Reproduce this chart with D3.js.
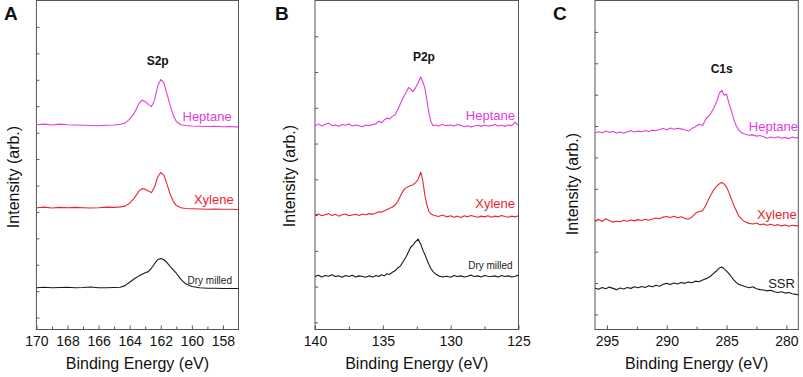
<!DOCTYPE html>
<html lang="en">
<head>
    <meta charset="UTF-8">
    <title>XPS spectra</title>
    <script src="https://d3js.org/d3.v7.min.js"></script>
    <style>
        html, body {
            margin: 0;
            padding: 0;
            background: #fff;
        }
        svg {
            display: block;
            font-family: "Liberation Sans", Arial, sans-serif;
        }
        .frame {
            fill: none;
            stroke: #555;
            stroke-width: 1;
        }
        .tick line {
            stroke: #555;
        }
        .tick text {
            font-size: 14px;
            fill: #111;
        }
        .spectrum {
            fill: none;
            stroke-width: 1.1;
            stroke-linejoin: round;
        }
    </style>
</head>
<body>
    <svg id="chart" width="803" height="377"></svg>

    <script>
        // ---- panel A : S2p ----
        const s2pEnergy = [170, 169.5, 169, 168.5, 168, 167.5, 167, 166.5, 166, 165.5, 165, 164.6, 164.3, 164.0, 163.7, 163.4,
            163.2, 163.0, 162.8, 162.6, 162.4, 162.2, 162.0, 161.8, 161.6, 161.4, 161.2, 161.0, 160.7, 160.4, 160.0,
            159.5, 159, 158.5, 158, 157.5, 157];
        const s2pHeptane = [7.30, 7.32, 7.29, 7.32, 7.30, 7.29, 7.28, 7.27, 7.26, 7.28, 7.29, 7.32, 7.36, 7.51, 7.74, 8.10,
            8.23, 8.18, 8.06, 7.99, 8.23, 8.76, 9.01, 8.88, 8.46, 8.04, 7.66, 7.42, 7.30, 7.27, 7.25,
            7.24, 7.23, 7.24, 7.22, 7.23, 7.21];
        const s2pXylene = [4.16, 4.18, 4.15, 4.17, 4.16, 4.17, 4.16, 4.15, 4.16, 4.18, 4.17, 4.19, 4.22, 4.33, 4.52, 4.79,
            4.88, 4.86, 4.79, 4.73, 4.94, 5.32, 5.49, 5.39, 5.05, 4.67, 4.41, 4.24, 4.16, 4.13, 4.12,
            4.11, 4.10, 4.11, 4.10, 4.10, 4.09];
        const s2pDryMilled = [1.13, 1.15, 1.13, 1.14, 1.15, 1.13, 1.14, 1.16, 1.13, 1.13, 1.14, 1.15, 1.21, 1.34, 1.47, 1.58,
            1.64, 1.70, 1.74, 1.87, 2.04, 2.19, 2.24, 2.19, 2.08, 1.94, 1.81, 1.68, 1.45, 1.28, 1.18,
            1.13, 1.11, 1.11, 1.10, 1.10, 1.10];
        const s2pTicks = [170, 168, 166, 164, 162, 160, 158];
        const s2pMinor = [169, 167, 165, 163, 161, 159];

        // ---- panel B : P2p ----
        const p2pEnergy = [140, 139.75, 139.5, 139.25, 139, 138.75, 138.5, 138.25, 138, 137.75, 137.5, 137.25, 137, 136.75, 136.5, 136.25, 136,
            135.75, 135.5, 135.3, 135.1, 134.9, 134.7, 134.5, 134.3, 134.1, 133.9, 133.7, 133.5, 133.3, 133.1,
            132.95, 132.8, 132.6, 132.4, 132.2, 132.05, 131.9, 131.75, 131.6, 131.45, 131.3, 131.1, 130.9, 130.6, 130.3,
            130, 129.75, 129.5, 129.25, 129, 128.75, 128.5, 128.25, 128, 127.75, 127.5, 127.25, 127, 126.75, 126.5, 126.25, 126,
            125.75, 125.5, 125.25, 125];
        const p2pHeptane = [5.50, 5.55, 5.49, 5.54, 5.57, 5.50, 5.52, 5.48, 5.53, 5.51, 5.55, 5.49, 5.52, 5.50, 5.47, 5.52, 5.50,
            5.53, 5.55, 5.63, 5.58, 5.66, 5.71, 5.69, 5.76, 5.80, 5.95, 6.12, 6.28, 6.42, 6.57,
            6.52, 6.45, 6.55, 6.70, 6.86, 6.72, 6.55, 6.20, 5.85, 5.60, 5.50, 5.52, 5.49, 5.53, 5.50,
            5.52, 5.49, 5.53, 5.51, 5.47, 5.50, 5.46, 5.49, 5.51, 5.48, 5.52, 5.49, 5.50, 5.53, 5.49, 5.51, 5.48,
            5.52, 5.50, 5.60, 5.50];
        const p2pXylene = [3.00, 3.03, 2.98, 3.01, 3.04, 2.99, 3.02, 2.97, 3.01, 3.03, 2.98, 3.00, 3.02, 2.99, 3.03, 3.01, 3.04,
            3.02, 3.06, 3.09, 3.08, 3.12, 3.15, 3.19, 3.22, 3.28, 3.38, 3.53, 3.68, 3.76, 3.80,
            3.83, 3.84, 3.90, 3.99, 4.20, 3.95, 3.55, 3.28, 3.10, 3.03, 3.00, 2.98, 2.96, 3.00, 2.95,
            2.98, 2.94, 2.97, 2.93, 2.98, 2.95, 2.99, 2.96, 2.94, 2.97, 2.95, 2.98, 2.94, 2.97, 2.95, 2.99, 2.96,
            2.94, 2.97, 2.95, 2.98];
        const p2pDryMilled = [1.28, 1.32, 1.27, 1.31, 1.29, 1.33, 1.28, 1.30, 1.26, 1.31, 1.28, 1.32, 1.27, 1.30, 1.28, 1.26, 1.30,
            1.27, 1.31, 1.28, 1.33, 1.30, 1.36, 1.34, 1.40, 1.44, 1.52, 1.58, 1.70, 1.82, 1.98,
            2.10, 2.15, 2.25, 2.33, 2.18, 2.02, 1.90, 1.75, 1.62, 1.50, 1.42, 1.35, 1.30, 1.27, 1.29,
            1.26, 1.31, 1.28, 1.30, 1.27, 1.29, 1.32, 1.28, 1.30, 1.27, 1.31, 1.29, 1.28, 1.30, 1.27, 1.31, 1.28,
            1.30, 1.27, 1.29, 1.32];
        const p2pTicks = [140, 135, 130, 125];
        const p2pMinor = [137.5, 132.5, 127.5];

        // ---- panel C : C1s ----
        const c1sEnergy = [296, 295.7, 295.4, 295.1, 294.8, 294.5, 294.2, 293.9, 293.6, 293.3, 293, 292.7, 292.4, 292.1, 291.8, 291.5,
            291.2, 290.9, 290.6, 290.3, 290, 289.7, 289.4, 289.1, 288.8, 288.5, 288.2, 287.9, 287.6, 287.3, 287, 286.7,
            286.4, 286.1, 285.8, 285.6, 285.4, 285.2, 285.0, 284.8, 284.6, 284.4, 284.2, 284.0,
            283.7, 283.4, 283.1, 282.8, 282.5, 282.2, 281.9, 281.6, 281.3, 281, 280.7, 280.4, 280.1, 279.8, 279.5, 279.2, 279];
        const c1sHeptane = [5.78, 5.82, 5.79, 5.84, 5.80, 5.83, 5.78, 5.81, 5.77, 5.82, 5.85, 5.81, 5.84, 5.82, 5.86, 5.83,
            5.87, 5.85, 5.89, 5.92, 5.88, 5.94, 5.90, 5.93, 5.91, 5.88, 5.84, 5.92, 5.98, 6.06, 6.02, 6.25,
            6.35, 6.55, 6.80, 7.05, 7.14, 6.98, 7.02, 6.72, 6.50, 6.22, 6.02, 5.88,
            5.78, 5.74, 5.71, 5.72, 5.68, 5.70, 5.66, 5.61, 5.65, 5.62, 5.66, 5.61, 5.64, 5.60, 5.65, 5.62, 5.64];
        const c1sXylene = [2.98, 3.03, 2.96, 3.05, 2.99, 2.94, 2.97, 2.95, 3.00, 2.97, 3.01, 2.98, 3.02, 2.99, 3.03, 3.00,
            3.04, 3.07, 3.05, 3.10, 3.12, 3.09, 3.13, 3.08, 3.11, 3.06, 3.03, 3.10, 3.22, 3.28, 3.30, 3.50,
            3.75, 3.95, 4.10, 4.16, 4.20, 4.15, 4.06, 3.88, 3.68, 3.48, 3.32, 3.15,
            3.02, 2.94, 2.90, 2.88, 2.91, 2.86, 2.88, 2.84, 2.87, 2.83, 2.86, 2.82, 2.85, 2.81, 2.84, 2.82, 2.83];
        const c1sSSR = [0.84, 0.80, 0.86, 0.82, 0.87, 0.83, 0.79, 0.84, 0.81, 0.86, 0.83, 0.88, 0.85, 0.89, 0.86, 0.91,
            0.88, 0.93, 0.90, 0.96, 0.99, 0.95, 1.00, 0.97, 1.02, 0.99, 1.03, 1.01, 1.06, 1.04, 1.10, 1.14,
            1.20, 1.30, 1.40, 1.48, 1.51, 1.45, 1.38, 1.30, 1.20, 1.10, 1.02, 0.96,
            0.92, 0.88, 0.85, 0.88, 0.82, 0.79, 0.78, 0.75, 0.77, 0.72, 0.70, 0.72, 0.68, 0.70, 0.66, 0.64, 0.62];
        const c1sTicks = [295, 290, 285, 280];
        const c1sMinor = [292.5, 287.5, 282.5];

        const magenta = "#e53be0";
        const red = "#e8262c";
        const black = "#1a1a1a";

        // layout of the three panels (pixels)
        const panels = [
            {
                letter: "A", left: 36.4, right: 238.5, xDomain: [170, 157], yDomain: [-0.45, 12], yTickCount: 12,
                ticks: s2pTicks, minor: s2pMinor, energy: s2pEnergy,
                title: { text: "S2p", x: 162.2, y: 9.72 },
                series: [
                    { name: "Heptane", values: s2pHeptane, color: magenta, size: 13, lx: 157.44, ly: 7.63 },
                    { name: "Xylene", values: s2pXylene, color: red, size: 13, lx: 157.31, ly: 4.48 },
                    { name: "Dry milled", values: s2pDryMilled, color: black, size: 10, lx: 157.42, ly: 1.41 }
                ],
                letterX: 4, yTitleX: 13, yTitleY: 177
            },
            {
                letter: "B", left: 315, right: 518.5, xDomain: [140, 125], yDomain: [-0.2, 9], yTickCount: 9,
                ticks: p2pTicks, minor: p2pMinor, energy: p2pEnergy,
                title: { text: "P2p", x: 131.97, y: 7.42 },
                series: [
                    { name: "Heptane", values: p2pHeptane, color: magenta, size: 13, lx: 125.26, ly: 5.79 },
                    { name: "Xylene", values: p2pXylene, color: red, size: 13, lx: 125.26, ly: 3.33 },
                    { name: "Dry milled", values: p2pDryMilled, color: black, size: 10, lx: 125.43, ly: 1.58 }
                ],
                letterX: 275, yTitleX: 289, yTitleY: 176
            },
            {
                letter: "C", left: 595, right: 798.3, xDomain: [296, 279], yDomain: [-0.48, 10], yTickCount: 10,
                ticks: c1sTicks, minor: c1sMinor, energy: c1sEnergy,
                title: { text: "C1s", x: 285.41, y: 7.83 },
                series: [
                    { name: "Heptane", values: c1sHeptane, color: magenta, size: 13, lx: 279.03, ly: 6.00 },
                    { name: "Xylene", values: c1sXylene, color: red, size: 13, lx: 279.14, ly: 3.19 },
                    { name: "SSR", values: c1sSSR, color: black, size: 13, lx: 279.28, ly: 0.98 }
                ],
                letterX: 553, yTitleX: 572.5, yTitleY: 184
            }
        ];

        // plot box top/bottom shared by all panels
        const plotTop = 0.5, plotBottom = 329.5;
        const svg = d3.select("#chart");

        panels.forEach(p => {
            const x = d3.scaleLinear().domain(p.xDomain).range([p.left, p.right]);
            const y = d3.scaleLinear().domain(p.yDomain).range([plotBottom, plotTop]);
            const g = svg.append("g");

            // x axis: labelled ticks plus small minor ticks, pointing inward
            g.append("g")
                .attr("transform", `translate(0,${plotBottom})`)
                .call(d3.axisBottom(x).tickValues(p.ticks).tickFormat(d3.format("d"))
                    .tickSizeInner(-4).tickSizeOuter(0).tickPadding(7))
                .call(a => a.select(".domain").remove());
            g.append("g")
                .attr("transform", `translate(0,${plotBottom})`)
                .call(d3.axisBottom(x).tickValues(p.minor).tickFormat("")
                    .tickSizeInner(-3).tickSizeOuter(0))
                .call(a => a.select(".domain").remove());

            // y axis: unlabelled inward ticks
            g.append("g")
                .attr("transform", `translate(${p.left},0)`)
                .call(d3.axisLeft(y).tickValues(d3.range(0, p.yTickCount)).tickFormat("")
                    .tickSizeInner(-3).tickSizeOuter(0))
                .call(a => a.select(".domain").remove());

            g.append("rect")
                .attr("class", "frame")
                .attr("x", p.left)
                .attr("y", plotTop)
                .attr("width", p.right - p.left)
                .attr("height", plotBottom - plotTop);

            const line = d3.line()
                .x((d, i) => x(p.energy[i]))
                .y(d => y(d));

            p.series.forEach(s => {
                g.append("path")
                    .datum(s.values)
                    .attr("class", "spectrum")
                    .attr("stroke", s.color)
                    .attr("d", line);

                g.append("text")
                    .attr("x", x(s.lx))
                    .attr("y", y(s.ly))
                    .attr("dy", "0.35em")
                    .attr("text-anchor", "end")
                    .attr("font-size", s.size)
                    .attr("fill", s.color)
                    .text(s.name);
            });

            // core level name
            g.append("text")
                .attr("x", x(p.title.x))
                .attr("y", y(p.title.y))
                .attr("dy", "0.35em")
                .attr("text-anchor", "middle")
                .attr("font-size", 12)
                .attr("font-weight", "bold")
                .attr("fill", "#111")
                .text(p.title.text);

            // panel letter
            g.append("text")
                .attr("x", p.letterX)
                .attr("y", 20)
                .attr("font-size", 19)
                .attr("font-weight", "bold")
                .attr("fill", "#111")
                .text(p.letter);

            g.append("text")
                .attr("transform", `translate(${p.yTitleX},${p.yTitleY}) rotate(-90)`)
                .attr("dy", "0.35em")
                .attr("text-anchor", "middle")
                .attr("font-size", 16)
                .attr("fill", "#111")
                .text("Intensity (arb.)");

            g.append("text")
                .attr("x", (p.left + p.right) / 2)
                .attr("y", 369)
                .attr("text-anchor", "middle")
                .attr("font-size", 16)
                .attr("fill", "#111")
                .text("Binding Energy (eV)");
        });
    </script>
</body>
</html>
